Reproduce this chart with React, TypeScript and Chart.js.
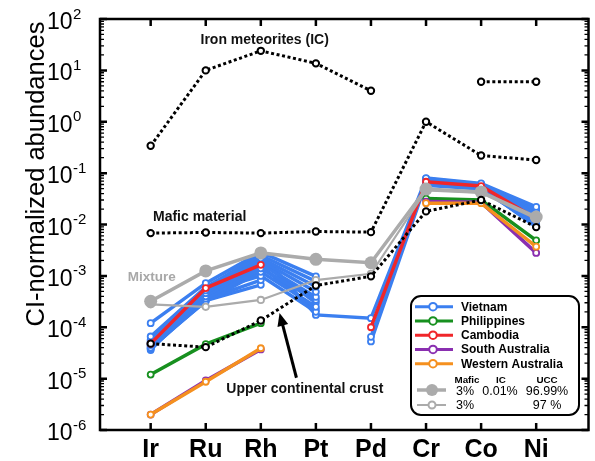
import React, { useEffect, useRef } from 'react';
import { Chart, registerables } from 'chart.js';
Chart.register(...registerables);

// ---------- DATA ----------
const elements = ['Ir', 'Ru', 'Rh', 'Pt', 'Pd', 'Cr', 'Co', 'Ni'];
const yExponents = [-6, -5, -4, -3, -2, -1, 0, 1, 2];

const ironMeteorites = [0.34, 10, 24, 13.7, 4.0, null, 6.0, 6.0];
const maficMaterial = [0.0068, 0.007, 0.0068, 0.0073, 0.0071, 1.0, 0.22, 0.18];
const upperCrust = [4.8e-5, 4.1e-5, 1.35e-4, 6.5e-4, 9.8e-4, 0.018, 0.03, 0.0089];

const vietnam1 = [1.2e-4, 7.2e-4, 2.9e-3, 9.8e-4, null, 0.08, 0.063, 0.022];
const vietnam2 = [6.6e-5, 6.0e-4, 2.5e-3, 7.8e-4, null, 0.076, 0.06, 0.02];
const vietnam3 = [5.7e-5, 5.2e-4, 2.2e-3, 6.2e-4, null, 0.072, 0.058, 0.019];
const vietnam4 = [4.5e-5, 4.6e-4, 2.0e-3, 4.9e-4, null, 0.07, 0.056, 0.017];
const vietnam5 = [4.0e-5, 4.0e-4, 1.7e-3, 3.9e-4, null, 0.066, 0.054, 0.015];
const vietnam6 = [3.8e-5, 3.6e-4, 1.4e-3, 3.4e-4, null, 0.063, 0.052, 0.013];
const vietnam7 = [4.2e-5, 3.2e-4, 1.2e-3, 2.5e-4, null, 0.06, 0.05, 0.011];
const vietnam8 = [3.6e-5, 4.8e-4, 1.0e-3, 2.0e-4, null, 0.058, 0.049, 0.01];
const vietnam9 = [5.0e-5, 5.5e-4, 2.7e-3, 1.74e-4, 1.5e-4, 0.078, 0.061, 0.021];
const vietnam10 = [4.4e-5, 3.5e-4, 8.3e-4, null, 6.5e-5, 0.068, 0.055, 0.016];
const vietnam11 = [3.9e-5, 3.3e-4, 6.7e-4, null, 5.3e-5, 0.065, 0.053, 0.009];
const vietnam12 = [4.7e-5, 4.3e-4, 1.85e-3, 3.0e-4, null, 0.074, 0.057, 0.018];
const vietnam13 = [5.3e-5, 3.8e-4, 1.55e-3, 2.2e-4, null, 0.062, 0.051, 0.012];
const vietnamSamples = [vietnam1, vietnam2, vietnam3, vietnam4, vietnam5, vietnam6, vietnam7, vietnam8, vietnam9, vietnam10, vietnam11, vietnam12, vietnam13];

const philippines = [1.2e-5, 4.7e-5, 1.2e-4, null, null, 0.032, 0.03, 0.0049];
const cambodia = [4.8e-5, 5.8e-4, 1.64e-3, null, 1.0e-4, 0.068, 0.056, 0.013];
const southAustralia = [2.0e-6, 9.2e-6, 3.7e-5, null, null, 0.028, 0.027, 0.0028];
const westernAustralia = [2.0e-6, 8.7e-6, 3.9e-5, null, null, 0.026, 0.026, 0.0037];

const mixtureIC = [3.2e-4, 1.25e-3, 2.8e-3, 2.1e-3, 1.8e-3, 0.049, 0.043, 0.014];
const mixtureNoIC = [2.8e-4, 2.5e-4, 3.4e-4, 8.3e-4, 1.1e-3, 0.046, 0.041, 0.013];

const legendNames = ['Vietnam', 'Philippines', 'Cambodia', 'South Australia', 'Western Australia'];

// ---------- STYLE ----------
const FONT = '"Liberation Sans", Arial, Helvetica, sans-serif';
const BLUE = '#3b7ff0';
const GREEN = '#17901f';
const RED = '#f0262a';
const PURPLE = '#8a2fb0';
const ORANGE = '#f5901f';
const GRAY = '#ababab';
const legendColors = [BLUE, GREEN, RED, PURPLE, ORANGE];

const toXY = (vals: (number | null)[]) => vals.map((v, i) => ({ x: i, y: v }));

function sampleSet(label: string, vals: (number | null)[], color: string, order: number) {
  return {
    label,
    data: toXY(vals),
    borderColor: color,
    backgroundColor: '#ffffff',
    borderWidth: 3.5,
    pointRadius: 3,
    pointBorderWidth: 1.8,
    pointBorderColor: color,
    pointBackgroundColor: '#ffffff',
    spanGaps: false,
    order,
  };
}

function refSet(label: string, vals: (number | null)[], order: number) {
  return {
    label,
    data: toXY(vals),
    borderColor: '#000000',
    borderWidth: 3,
    borderDash: [3, 2.6],
    pointRadius: 3.2,
    pointBorderWidth: 2,
    pointBorderColor: '#000000',
    pointBackgroundColor: '#ffffff',
    spanGaps: false,
    order,
  };
}

const framePlugin = {
  id: 'framePlugin',
  afterDraw(chart: any) {
    const { ctx, chartArea } = chart;
    const { left, right, top, bottom } = chartArea;
    const xs = chart.scales.x;
    const ys = chart.scales.y;
    ctx.save();

    // annotations
    ctx.fillStyle = '#111';
    ctx.textAlign = 'center';
    ctx.textBaseline = 'middle';
    ctx.font = `bold 14px ${FONT}`;
    ctx.fillText('Iron meteorites (IC)', xs.getPixelForValue(2.07), ys.getPixelForValue(39));
    ctx.fillText('Mafic material', xs.getPixelForValue(0.89), ys.getPixelForValue(0.0136));
    ctx.fillText('Upper continental crust', xs.getPixelForValue(2.8), ys.getPixelForValue(6.3e-6));
    ctx.fillStyle = '#a8a8a8';
    ctx.font = `bold 13.5px ${FONT}`;
    ctx.fillText('Mixture', xs.getPixelForValue(0.02), ys.getPixelForValue(9.5e-4));

    // arrow
    const ax0 = xs.getPixelForValue(2.647), ay0 = ys.getPixelForValue(1.04e-5);
    const ax1 = xs.getPixelForValue(2.34), ay1 = ys.getPixelForValue(1.9e-4);
    const ang = Math.atan2(ay1 - ay0, ax1 - ax0);
    ctx.strokeStyle = '#000';
    ctx.fillStyle = '#000';
    ctx.lineWidth = 3;
    ctx.beginPath();
    ctx.moveTo(ax0, ay0);
    ctx.lineTo(ax1 - 8 * Math.cos(ang), ay1 - 8 * Math.sin(ang));
    ctx.stroke();
    ctx.beginPath();
    ctx.moveTo(ax1, ay1);
    ctx.lineTo(ax1 - 13 * Math.cos(ang) + 5.5 * Math.sin(ang), ay1 - 13 * Math.sin(ang) - 5.5 * Math.cos(ang));
    ctx.lineTo(ax1 - 13 * Math.cos(ang) - 5.5 * Math.sin(ang), ay1 - 13 * Math.sin(ang) + 5.5 * Math.cos(ang));
    ctx.closePath();
    ctx.fill();

    // legend box
    const bx = 411, by = 296, bw = 168, bh = 119, r = 10;
    ctx.beginPath();
    ctx.moveTo(bx + r, by);
    ctx.arcTo(bx + bw, by, bx + bw, by + bh, r);
    ctx.arcTo(bx + bw, by + bh, bx, by + bh, r);
    ctx.arcTo(bx, by + bh, bx, by, r);
    ctx.arcTo(bx, by, bx + bw, by, r);
    ctx.closePath();
    ctx.fillStyle = '#fff';
    ctx.fill();
    ctx.strokeStyle = '#000';
    ctx.lineWidth = 2;
    ctx.stroke();

    legendNames.forEach((name, i) => {
      const ly = 306.7 + i * 14.25;
      ctx.strokeStyle = legendColors[i];
      ctx.lineWidth = 3;
      ctx.beginPath();
      ctx.moveTo(415, ly);
      ctx.lineTo(453, ly);
      ctx.stroke();
      ctx.beginPath();
      ctx.arc(433, ly, 3.8, 0, Math.PI * 2);
      ctx.fillStyle = '#fff';
      ctx.fill();
      ctx.lineWidth = 2;
      ctx.stroke();
      ctx.fillStyle = '#000';
      ctx.textAlign = 'left';
      ctx.textBaseline = 'middle';
      ctx.font = `bold 12px ${FONT}`;
      ctx.fillText(name, 461, ly + 0.5);
    });

    // mixture mini legend
    ctx.textAlign = 'center';
    ctx.fillStyle = '#000';
    ctx.font = `bold 9.8px ${FONT}`;
    ctx.fillText('Mafic', 467, 380);
    ctx.fillText('IC', 501, 380);
    ctx.fillText('UCC', 547, 380);
    ctx.font = `12.5px ${FONT}`;
    ctx.fillText('3%', 465, 392);
    ctx.fillText('0.01%', 500, 392);
    ctx.fillText('96.99%', 547, 392);
    ctx.fillText('3%', 465, 405.5);
    ctx.fillText('97 %', 547, 405.5);
    ctx.strokeStyle = GRAY;
    ctx.fillStyle = GRAY;
    ctx.lineWidth = 3.5;
    ctx.beginPath();
    ctx.moveTo(417, 390);
    ctx.lineTo(446, 390);
    ctx.stroke();
    ctx.beginPath();
    ctx.arc(432, 390, 6, 0, Math.PI * 2);
    ctx.fill();
    ctx.lineWidth = 2;
    ctx.beginPath();
    ctx.moveTo(417, 405);
    ctx.lineTo(446, 405);
    ctx.stroke();
    ctx.beginPath();
    ctx.arc(432, 405, 3.5, 0, Math.PI * 2);
    ctx.fillStyle = '#fff';
    ctx.fill();
    ctx.stroke();

    // frame
    ctx.strokeStyle = '#000';
    ctx.lineWidth = 2.5;
    ctx.strokeRect(left, top, right - left, bottom - top);

    // y ticks (major + minor) on both sides
    yExponents.forEach((e) => {
      const y = ys.getPixelForValue(Math.pow(10, e));
      ctx.lineWidth = 2.5;
      ctx.beginPath();
      ctx.moveTo(left, y); ctx.lineTo(left + 7, y);
      ctx.moveTo(right, y); ctx.lineTo(right - 7, y);
      ctx.stroke();
      if (e < 2) {
        ctx.lineWidth = 1.3;
        for (let m = 2; m <= 9; m++) {
          const ym = ys.getPixelForValue(m * Math.pow(10, e));
          ctx.beginPath();
          ctx.moveTo(left, ym); ctx.lineTo(left + 4, ym);
          ctx.moveTo(right, ym); ctx.lineTo(right - 4, ym);
          ctx.stroke();
        }
      }
      // labels
      ctx.fillStyle = '#000';
      ctx.textAlign = 'left';
      ctx.textBaseline = 'alphabetic';
      ctx.font = `23px ${FONT}`;
      ctx.fillText('10', 47, y + 10);
      const w = ctx.measureText('10').width;
      ctx.font = `15px ${FONT}`;
      ctx.fillText(String(e), 47 + w + 0.5, y - 0.5);
    });

    // x ticks top & bottom, labels
    elements.forEach((el, i) => {
      const x = xs.getPixelForValue(i);
      ctx.lineWidth = 2.5;
      ctx.beginPath();
      ctx.moveTo(x, top); ctx.lineTo(x, top + 7);
      ctx.moveTo(x, bottom); ctx.lineTo(x, bottom - 7);
      ctx.stroke();
      ctx.fillStyle = '#000';
      ctx.textAlign = 'center';
      ctx.textBaseline = 'alphabetic';
      ctx.font = `bold 25px ${FONT}`;
      ctx.fillText(el, x, 456.5);
    });

    // y title
    ctx.save();
    ctx.translate(37, 174);
    ctx.rotate(-Math.PI / 2);
    ctx.textAlign = 'center';
    ctx.textBaseline = 'middle';
    ctx.font = `25.5px ${FONT}`;
    ctx.fillStyle = '#000';
    ctx.fillText('CI-normalized abundances', 0, 0);
    ctx.restore();

    ctx.restore();
  },
};

export default function App() {
  const ref = useRef<HTMLCanvasElement>(null);
  useEffect(() => {
    if (!ref.current) return;
    const datasets: any[] = [
      refSet('Iron meteorites (IC)', ironMeteorites, 0),
      refSet('Mafic material', maficMaterial, 0),
      refSet('Upper continental crust', upperCrust, 0),
      {
        label: 'Mixture (3% mafic, 0.01% IC, 96.99% UCC)',
        data: toXY(mixtureIC),
        borderColor: GRAY,
        borderWidth: 3.5,
        pointRadius: 6.5,
        pointBorderWidth: 0,
        pointBackgroundColor: GRAY,
        pointBorderColor: GRAY,
        order: 1,
      },
      {
        label: 'Mixture (3% mafic, 97% UCC)',
        data: toXY(mixtureNoIC),
        borderColor: GRAY,
        borderWidth: 2.2,
        pointRadius: 3.2,
        pointBorderWidth: 1.8,
        pointBackgroundColor: '#fff',
        pointBorderColor: GRAY,
        order: 1,
      },
      sampleSet('Western Australia', westernAustralia, ORANGE, 2),
      sampleSet('South Australia', southAustralia, PURPLE, 3),
      sampleSet('Philippines', philippines, GREEN, 4),
      sampleSet('Cambodia', cambodia, RED, 5),
      ...vietnamSamples.map((v, i) => sampleSet('Vietnam ' + (i + 1), v, BLUE, 6)),
    ];
    const chart = new Chart(ref.current, {
      type: 'line',
      data: { datasets },
      options: {
        responsive: false,
        animation: false,
        devicePixelRatio: 1,
        layout: { padding: { left: 100, right: 5, top: 19, bottom: 31 } },
        scales: {
          x: { type: 'linear', min: -0.92, max: 7.95, display: false },
          y: { type: 'logarithmic', min: 1e-6, max: 100, display: false },
        },
        plugins: { legend: { display: false }, tooltip: { enabled: false } },
      },
      plugins: [framePlugin],
    } as any);
    return () => chart.destroy();
  }, []);
  return (
    <div style={{ position: 'fixed', left: 0, top: 0, width: 595, height: 461, background: '#fff' }}>
      <canvas ref={ref} width={595} height={461} style={{ display: 'block', width: 595, height: 461 }} />
    </div>
  );
}
